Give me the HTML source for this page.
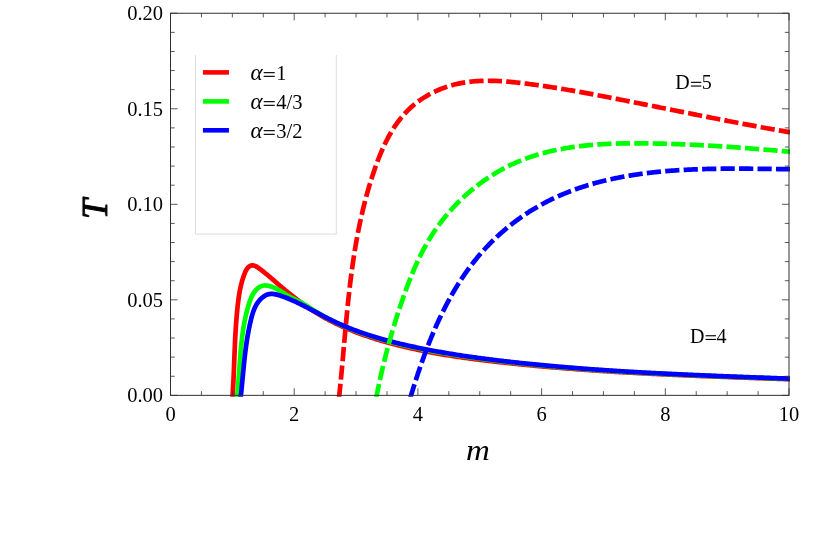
<!DOCTYPE html>
<html><head><meta charset="utf-8"><title>T vs m</title>
<style>
html,body{margin:0;padding:0;background:#fff;}
body{width:830px;height:545px;overflow:hidden;position:relative;font-family:"Liberation Serif",serif;}
</style></head><body>
<svg width="830" height="545" viewBox="0 0 830 545" style="position:absolute;left:0;top:0">
<defs><clipPath id="cp"><rect x="170.5" y="13.25" width="619.50" height="383.40"/></clipPath></defs>
<path d="M195.5,55 V234.1 H336.3 V55" fill="none" stroke="#dcdcdc" stroke-width="1"/>
<g clip-path="url(#cp)" fill="none" stroke-linejoin="round">
<path d="M339.00,398.02 L339.15,396.61 L339.30,395.20 L339.45,393.78 L339.60,392.37 L339.74,390.96 L339.89,389.55 L340.03,388.14 L340.17,386.72 L340.31,385.31 L340.45,383.90 L340.59,382.49 L340.73,381.08 L340.86,379.67 L341.00,378.25 L341.13,376.84 L341.27,375.43 L341.40,374.02 L341.53,372.61 L341.66,371.20 L341.79,369.79 L341.92,368.38 L342.05,366.97 L342.18,365.56 L342.31,364.15 L342.44,362.74 L342.57,361.33 L342.69,359.92 L342.82,358.51 L342.95,357.10 L343.07,355.69 L343.20,354.28 L343.32,352.87 L343.45,351.46 L343.57,350.05 L343.70,348.65 L343.82,347.24 L343.95,345.83 L344.07,344.42 L344.20,343.01 L344.32,341.61 L344.45,340.20 L344.58,338.79 L344.70,337.39 L344.83,335.98 L344.96,334.57 L345.08,333.17 L345.21,331.76 L345.34,330.35 L345.47,328.95 L345.60,327.54 L345.73,326.14 L345.86,324.73 L345.99,323.33 L346.12,321.92 L346.25,320.52 L346.39,319.12 L346.52,317.71 L346.65,316.31 L346.79,314.91 L346.93,313.50 L347.07,312.10 L347.20,310.70 L347.35,309.30 L347.49,307.89 L347.63,306.49 L347.77,305.09 L347.92,303.69 L348.06,302.29 L348.21,300.89 L348.36,299.49 L348.51,298.09 L348.66,296.69 L348.82,295.29 L348.97,293.89 L349.13,292.49 L349.29,291.09 L349.45,289.69 L349.61,288.30 L349.77,286.90 L349.94,285.50 L350.10,284.10 L350.27,282.71 L350.44,281.31 L350.62,279.91 L350.79,278.52 L350.97,277.12 L351.15,275.73 L351.33,274.33 L351.51,272.94 L351.70,271.55 L351.89,270.15 L352.08,268.76 L352.27,267.37 L352.47,265.97 L352.66,264.58 L352.86,263.19 L353.07,261.80 L353.27,260.41 L353.48,259.02 L353.69,257.63 L353.90,256.24 L354.12,254.85 L354.34,253.46 L354.56,252.07 L354.78,250.68 L355.01,249.29 L355.24,247.90 L355.47,246.52 L355.71,245.13 L355.95,243.74 L356.19,242.36 L356.43,240.97 L356.68,239.59 L356.93,238.20 L357.19,236.82 L357.45,235.43 L357.71,234.05 L357.97,232.67 L358.24,231.28 L358.51,229.90 L358.79,228.52 L359.07,227.14 L359.35,225.76 L359.64,224.38 L359.93,223.00 L360.22,221.62 L360.52,220.24 L360.82,218.86 L361.13,217.48 L361.44,216.10 L361.75,214.73 L362.07,213.35 L362.39,211.97 L362.71,210.60 L363.04,209.22 L363.37,207.85 L363.71,206.47 L364.05,205.10 L364.40,203.72 L364.75,202.35 L365.10,200.98 L365.46,199.61 L365.83,198.24 L366.19,196.86 L366.57,195.49 L366.94,194.12 L367.33,192.76 L367.71,191.39 L368.10,190.02 L368.50,188.65 L368.90,187.28 L369.31,185.92 L369.72,184.55 L370.13,183.18 L370.55,181.82 L370.98,180.45 L371.41,179.09 L371.84,177.73 L372.28,176.36 L372.73,175.00 L373.18,173.64 L373.63,172.28 L374.10,170.92 L374.56,169.56 L375.03,168.20 L375.51,166.84 L376.00,165.49 L376.49,164.14 L376.99,162.79 L377.49,161.44 L378.00,160.10 L378.52,158.76 L379.05,157.42 L379.58,156.08 L380.12,154.75 L380.67,153.43 L381.23,152.11 L381.79,150.79 L382.37,149.48 L382.95,148.18 L383.54,146.88 L384.14,145.58 L384.75,144.29 L385.37,143.01 L386.00,141.74 L386.64,140.47 L387.29,139.21 L387.95,137.96 L388.62,136.72 L389.30,135.48 L389.99,134.25 L390.69,133.03 L391.40,131.82 L392.13,130.62 L392.86,129.43 L393.61,128.25 L394.37,127.08 L395.14,125.91 L395.93,124.76 L396.72,123.62 L397.53,122.49 L398.35,121.38 L399.19,120.27 L400.04,119.18 L400.90,118.10 L401.78,117.03 L402.67,115.97 L403.57,114.93 L404.49,113.90 L405.42,112.88 L406.37,111.88 L407.33,110.89 L408.31,109.92 L409.30,108.96 L410.31,108.01 L411.33,107.08 L412.37,106.17 L413.42,105.27 L414.49,104.38 L415.57,103.51 L416.66,102.66 L417.77,101.82 L418.89,101.00 L420.02,100.19 L421.17,99.40 L422.33,98.63 L423.49,97.87 L424.67,97.13 L425.87,96.40 L427.07,95.69 L428.28,94.99 L429.50,94.31 L430.74,93.65 L431.98,93.00 L433.23,92.37 L434.49,91.76 L435.76,91.16 L437.04,90.58 L438.32,90.02 L439.62,89.47 L440.92,88.94 L442.23,88.43 L443.54,87.94 L444.86,87.46 L446.19,87.00 L447.52,86.55 L448.86,86.13 L450.21,85.72 L451.56,85.33 L452.91,84.96 L454.27,84.60 L455.63,84.26 L457.00,83.94 L458.37,83.64 L459.74,83.35 L461.12,83.08 L462.50,82.83 L463.88,82.59 L465.27,82.37 L466.66,82.17 L468.06,81.98 L469.45,81.80 L470.85,81.64 L472.25,81.50 L473.66,81.37 L475.07,81.25 L476.47,81.15 L477.89,81.05 L479.30,80.98 L480.72,80.91 L482.13,80.86 L483.55,80.82 L484.97,80.79 L486.40,80.77 L487.82,80.76 L489.25,80.76 L490.68,80.78 L492.10,80.80 L493.53,80.84 L494.96,80.88 L496.39,80.93 L497.83,80.99 L499.26,81.06 L500.69,81.14 L502.12,81.23 L503.56,81.32 L504.99,81.43 L506.43,81.54 L507.86,81.65 L509.29,81.78 L510.73,81.91 L512.16,82.04 L513.59,82.18 L515.03,82.33 L516.46,82.48 L517.89,82.64 L519.32,82.80 L520.75,82.96 L522.17,83.13 L523.60,83.30 L525.02,83.48 L526.45,83.66 L527.87,83.84 L529.29,84.02 L530.71,84.21 L532.13,84.40 L533.54,84.59 L534.96,84.78 L536.37,84.98 L537.78,85.17 L539.19,85.37 L540.60,85.57 L542.00,85.77 L543.41,85.98 L544.81,86.19 L546.21,86.39 L547.61,86.61 L549.01,86.82 L550.41,87.03 L551.81,87.25 L553.21,87.47 L554.60,87.68 L555.99,87.91 L557.39,88.13 L558.78,88.35 L560.17,88.58 L561.56,88.81 L562.95,89.04 L564.34,89.27 L565.72,89.50 L567.11,89.73 L568.50,89.97 L569.88,90.21 L571.27,90.44 L572.65,90.68 L574.03,90.93 L575.41,91.17 L576.80,91.41 L578.18,91.66 L579.56,91.90 L580.94,92.15 L582.32,92.40 L583.70,92.65 L585.08,92.90 L586.45,93.15 L587.83,93.40 L589.21,93.66 L590.59,93.91 L591.97,94.17 L593.34,94.42 L594.72,94.68 L596.10,94.94 L597.47,95.20 L598.85,95.46 L600.23,95.72 L601.61,95.98 L602.98,96.25 L604.36,96.51 L605.74,96.77 L607.11,97.04 L608.49,97.30 L609.87,97.57 L611.25,97.84 L612.63,98.10 L614.01,98.37 L615.39,98.64 L616.77,98.91 L618.15,99.18 L619.53,99.45 L620.91,99.72 L622.29,99.99 L623.67,100.26 L625.05,100.53 L626.43,100.81 L627.81,101.08 L629.20,101.35 L630.58,101.62 L631.96,101.90 L633.35,102.17 L634.73,102.45 L636.12,102.72 L637.50,102.99 L638.88,103.27 L640.27,103.55 L641.65,103.82 L643.04,104.10 L644.43,104.37 L645.81,104.65 L647.20,104.93 L648.58,105.20 L649.97,105.48 L651.36,105.76 L652.74,106.04 L654.13,106.31 L655.52,106.59 L656.91,106.87 L658.29,107.15 L659.68,107.43 L661.07,107.70 L662.46,107.98 L663.85,108.26 L665.24,108.54 L666.63,108.82 L668.02,109.10 L669.40,109.38 L670.79,109.65 L672.18,109.93 L673.57,110.21 L674.96,110.49 L676.35,110.77 L677.74,111.05 L679.13,111.33 L680.52,111.60 L681.92,111.88 L683.31,112.16 L684.70,112.44 L686.09,112.72 L687.48,113.00 L688.87,113.27 L690.26,113.55 L691.65,113.83 L693.04,114.11 L694.43,114.38 L695.83,114.66 L697.22,114.94 L698.61,115.21 L700.00,115.49 L701.39,115.76 L702.78,116.04 L704.17,116.31 L705.57,116.59 L706.96,116.86 L708.35,117.14 L709.74,117.41 L711.13,117.69 L712.52,117.96 L713.92,118.23 L715.31,118.50 L716.70,118.78 L718.09,119.05 L719.48,119.32 L720.87,119.59 L722.27,119.86 L723.66,120.13 L725.05,120.40 L726.44,120.67 L727.83,120.94 L729.22,121.21 L730.61,121.47 L732.00,121.74 L733.40,122.01 L734.79,122.27 L736.18,122.54 L737.57,122.80 L738.96,123.07 L740.35,123.33 L741.74,123.59 L743.13,123.85 L744.52,124.11 L745.91,124.38 L747.30,124.64 L748.69,124.90 L750.08,125.15 L751.47,125.41 L752.86,125.67 L754.25,125.93 L755.64,126.18 L757.03,126.44 L758.41,126.69 L759.80,126.94 L761.19,127.20 L762.58,127.45 L763.97,127.70 L765.36,127.95 L766.74,128.20 L768.13,128.45 L769.52,128.69 L770.90,128.94 L772.29,129.19 L773.68,129.43 L775.06,129.68 L776.45,129.92 L777.84,130.16 L779.22,130.40 L780.61,130.64 L781.99,130.88 L783.38,131.12 L784.76,131.36 L786.14,131.59 L787.53,131.83 L788.91,132.06 L790.30,132.29 L791.68,132.52 L793.06,132.76 L794.44,132.98 L795.83,133.21 L797.21,133.44 L798.59,133.67 L799.97,133.89" stroke="#ff0000" stroke-width="4.7" stroke-dasharray="14.24 4.23" stroke-dashoffset="0"/>
<path d="M232.34,398.98 L232.45,397.56 L232.54,396.15 L232.64,394.74 L232.73,393.32 L232.82,391.90 L232.90,390.49 L232.98,389.07 L233.06,387.65 L233.14,386.23 L233.22,384.81 L233.29,383.39 L233.36,381.97 L233.43,380.55 L233.50,379.12 L233.56,377.70 L233.62,376.28 L233.69,374.85 L233.75,373.43 L233.81,372.01 L233.87,370.58 L233.92,369.16 L233.98,367.73 L234.04,366.30 L234.09,364.88 L234.15,363.45 L234.20,362.03 L234.26,360.60 L234.31,359.17 L234.37,357.75 L234.43,356.32 L234.48,354.89 L234.54,353.47 L234.60,352.04 L234.66,350.61 L234.71,349.19 L234.77,347.76 L234.84,346.33 L234.90,344.91 L234.96,343.48 L235.03,342.06 L235.10,340.63 L235.17,339.21 L235.24,337.78 L235.31,336.36 L235.39,334.93 L235.47,333.51 L235.55,332.09 L235.63,330.67 L235.72,329.24 L235.81,327.82 L235.90,326.40 L236.00,324.98 L236.10,323.56 L236.20,322.14 L236.31,320.72 L236.42,319.31 L236.53,317.89 L236.65,316.47 L236.77,315.06 L236.90,313.64 L237.03,312.23 L237.17,310.82 L237.31,309.41 L237.45,308.00 L237.60,306.59 L237.76,305.18 L237.92,303.77 L238.09,302.36 L238.26,300.96 L238.44,299.55 L238.63,298.15 L238.84,296.75 L239.05,295.35 L239.27,293.95 L239.51,292.55 L239.76,291.15 L240.03,289.75 L240.31,288.36 L240.61,286.97 L240.93,285.58 L241.27,284.19 L241.63,282.80 L242.00,281.41 L242.40,280.03 L242.83,278.64 L243.28,277.26 L243.75,275.88 L244.25,274.50 L244.78,273.13 L245.35,271.78 L245.98,270.48 L246.70,269.26 L247.51,268.14 L248.43,267.14 L249.48,266.30 L250.67,265.67 L251.96,265.36 L253.34,265.43 L254.73,265.81 L256.07,266.40 L257.33,267.12 L258.54,267.93 L259.70,268.80 L260.86,269.68 L262.00,270.56 L263.12,271.45 L264.24,272.35 L265.35,273.25 L266.45,274.15 L267.54,275.06 L268.63,275.97 L269.71,276.89 L270.79,277.81 L271.86,278.73 L272.93,279.65 L274.00,280.58 L275.07,281.50 L276.14,282.43 L277.21,283.35 L278.29,284.27 L279.36,285.19 L280.45,286.12 L281.53,287.03 L282.62,287.95 L283.71,288.87 L284.80,289.78 L285.90,290.69 L287.00,291.60 L288.11,292.50 L289.22,293.40 L290.33,294.30 L291.45,295.19 L292.57,296.08 L293.69,296.96 L294.82,297.84 L295.95,298.72 L297.08,299.59 L298.22,300.45 L299.37,301.31 L300.52,302.16 L301.67,303.01 L302.82,303.85 L303.99,304.68 L305.15,305.51 L306.32,306.33 L307.49,307.14 L308.67,307.95 L309.86,308.74 L311.05,309.53 L312.24,310.31 L313.44,311.08 L314.64,311.85 L315.85,312.60 L317.06,313.35 L318.28,314.08 L319.50,314.81 L320.73,315.53 L321.96,316.24 L323.19,316.94 L324.43,317.64 L325.68,318.32 L326.92,319.00 L328.18,319.67 L329.43,320.33 L330.70,320.99 L331.96,321.63 L333.23,322.27 L334.50,322.90 L335.78,323.52 L337.06,324.13 L338.34,324.74 L339.63,325.34 L340.92,325.93 L342.22,326.52 L343.52,327.10 L344.82,327.67 L346.12,328.23 L347.43,328.79 L348.74,329.33 L350.06,329.88 L351.38,330.41 L352.70,330.94 L354.02,331.46 L355.35,331.98 L356.68,332.49 L358.01,332.99 L359.34,333.49 L360.68,333.98 L362.02,334.46 L363.36,334.94 L364.71,335.41 L366.06,335.88 L367.40,336.34 L368.76,336.79 L370.11,337.24 L371.47,337.68 L372.83,338.12 L374.19,338.55 L375.55,338.98 L376.91,339.40 L378.28,339.82 L379.64,340.23 L381.01,340.63 L382.38,341.03 L383.76,341.43 L385.13,341.82 L386.51,342.20 L387.88,342.58 L389.26,342.96 L390.64,343.33 L392.02,343.70 L393.40,344.06 L394.78,344.42 L396.17,344.77 L397.55,345.12 L398.93,345.47 L400.32,345.81 L401.71,346.15 L403.09,346.48 L404.48,346.81 L405.87,347.13 L407.26,347.46 L408.65,347.77 L410.04,348.09 L411.43,348.40 L412.82,348.70 L414.22,349.01 L415.61,349.31 L417.00,349.60 L418.40,349.89 L419.79,350.18 L421.19,350.47 L422.58,350.75 L423.98,351.03 L425.38,351.30 L426.78,351.57 L428.17,351.84 L429.57,352.11 L430.97,352.37 L432.37,352.63 L433.77,352.89 L435.17,353.14 L436.58,353.39 L437.98,353.64 L439.38,353.88 L440.78,354.12 L442.19,354.36 L443.59,354.59 L445.00,354.83 L446.40,355.06 L447.81,355.28 L449.21,355.51 L450.62,355.73 L452.02,355.95 L453.43,356.17 L454.84,356.38 L456.25,356.60 L457.65,356.81 L459.06,357.01 L460.47,357.22 L461.88,357.42 L463.29,357.62 L464.70,357.82 L466.11,358.02 L467.52,358.21 L468.93,358.40 L470.34,358.59 L471.75,358.78 L473.17,358.97 L474.58,359.15 L475.99,359.34 L477.40,359.52 L478.82,359.70 L480.23,359.87 L481.64,360.05 L483.06,360.22 L484.47,360.40 L485.88,360.57 L487.30,360.74 L488.71,360.90 L490.13,361.07 L491.54,361.24 L492.96,361.40 L494.37,361.56 L495.79,361.72 L497.20,361.88 L498.62,362.04 L500.03,362.20 L501.45,362.36 L502.86,362.51 L504.28,362.67 L505.69,362.82 L507.11,362.97 L508.53,363.12 L509.94,363.27 L511.36,363.42 L512.78,363.57 L514.19,363.71 L515.61,363.86 L517.03,364.00 L518.44,364.15 L519.86,364.29 L521.28,364.43 L522.69,364.57 L524.11,364.71 L525.53,364.85 L526.94,364.99 L528.36,365.12 L529.78,365.26 L531.20,365.39 L532.62,365.53 L534.03,365.66 L535.45,365.79 L536.87,365.92 L538.29,366.05 L539.71,366.18 L541.12,366.31 L542.54,366.44 L543.96,366.56 L545.38,366.69 L546.80,366.81 L548.22,366.93 L549.64,367.05 L551.05,367.18 L552.47,367.30 L553.89,367.42 L555.31,367.53 L556.73,367.65 L558.15,367.77 L559.57,367.88 L560.99,368.00 L562.41,368.11 L563.83,368.23 L565.25,368.34 L566.67,368.45 L568.09,368.56 L569.51,368.67 L570.93,368.78 L572.35,368.89 L573.77,369.00 L575.19,369.10 L576.61,369.21 L578.03,369.31 L579.45,369.42 L580.87,369.52 L582.29,369.62 L583.71,369.73 L585.13,369.83 L586.55,369.93 L587.97,370.03 L589.40,370.13 L590.82,370.22 L592.24,370.32 L593.66,370.42 L595.08,370.51 L596.50,370.61 L597.92,370.70 L599.34,370.80 L600.77,370.89 L602.19,370.98 L603.61,371.07 L605.03,371.16 L606.45,371.25 L607.87,371.34 L609.30,371.43 L610.72,371.52 L612.14,371.61 L613.56,371.69 L614.98,371.78 L616.40,371.87 L617.83,371.95 L619.25,372.04 L620.67,372.12 L622.09,372.20 L623.52,372.28 L624.94,372.37 L626.36,372.45 L627.78,372.53 L629.20,372.61 L630.63,372.69 L632.05,372.77 L633.47,372.84 L634.89,372.92 L636.32,373.00 L637.74,373.08 L639.16,373.15 L640.59,373.23 L642.01,373.30 L643.43,373.38 L644.85,373.45 L646.28,373.52 L647.70,373.60 L649.12,373.67 L650.55,373.74 L651.97,373.81 L653.39,373.88 L654.82,373.95 L656.24,374.02 L657.66,374.09 L659.08,374.16 L660.51,374.23 L661.93,374.30 L663.35,374.36 L664.78,374.43 L666.20,374.50 L667.62,374.56 L669.05,374.63 L670.47,374.69 L671.89,374.76 L673.32,374.82 L674.74,374.89 L676.16,374.95 L677.59,375.01 L679.01,375.08 L680.43,375.14 L681.86,375.20 L683.28,375.26 L684.71,375.32 L686.13,375.39 L687.55,375.45 L688.98,375.51 L690.40,375.57 L691.82,375.63 L693.25,375.68 L694.67,375.74 L696.09,375.80 L697.52,375.86 L698.94,375.92 L700.36,375.98 L701.79,376.03 L703.21,376.09 L704.64,376.15 L706.06,376.20 L707.48,376.26 L708.91,376.31 L710.33,376.37 L711.75,376.43 L713.18,376.48 L714.60,376.54 L716.02,376.59 L717.45,376.64 L718.87,376.70 L720.30,376.75 L721.72,376.81 L723.14,376.86 L724.57,376.91 L725.99,376.97 L727.41,377.02 L728.84,377.07 L730.26,377.12 L731.68,377.18 L733.11,377.23 L734.53,377.28 L735.95,377.33 L737.38,377.38 L738.80,377.43 L740.23,377.49 L741.65,377.54 L743.07,377.59 L744.50,377.64 L745.92,377.69 L747.34,377.74 L748.77,377.79 L750.19,377.84 L751.61,377.89 L753.04,377.94 L754.46,377.99 L755.88,378.04 L757.31,378.09 L758.73,378.14 L760.15,378.19 L761.57,378.24 L763.00,378.29 L764.42,378.34 L765.84,378.39 L767.27,378.44 L768.69,378.49 L770.11,378.54 L771.54,378.59 L772.96,378.64 L774.38,378.69 L775.80,378.74 L777.23,378.78 L778.65,378.83 L780.07,378.88 L781.50,378.93 L782.92,378.98 L784.34,379.03 L785.76,379.08 L787.19,379.13 L788.61,379.18 L790.03,379.23 L791.45,379.28 L792.88,379.33 L794.30,379.38 L795.72,379.43 L797.14,379.48 L798.57,379.53 L799.99,379.58" stroke="#ff0000" stroke-width="4.7"/>
<path d="M236.70,399.01 L236.86,397.67 L237.02,396.32 L237.17,394.97 L237.31,393.62 L237.45,392.28 L237.59,390.93 L237.72,389.58 L237.85,388.24 L237.97,386.89 L238.09,385.55 L238.20,384.20 L238.32,382.85 L238.43,381.51 L238.53,380.16 L238.64,378.82 L238.74,377.47 L238.84,376.13 L238.94,374.78 L239.03,373.44 L239.13,372.09 L239.22,370.75 L239.32,369.40 L239.41,368.06 L239.51,366.72 L239.60,365.37 L239.70,364.03 L239.79,362.69 L239.89,361.35 L239.99,360.01 L240.09,358.67 L240.19,357.33 L240.30,355.99 L240.40,354.65 L240.51,353.31 L240.62,351.97 L240.74,350.63 L240.86,349.29 L240.98,347.96 L241.11,346.62 L241.24,345.28 L241.37,343.95 L241.51,342.61 L241.66,341.28 L241.81,339.95 L241.96,338.61 L242.12,337.28 L242.29,335.95 L242.47,334.62 L242.65,333.29 L242.83,331.96 L243.03,330.63 L243.23,329.30 L243.44,327.97 L243.66,326.65 L243.89,325.32 L244.12,323.99 L244.36,322.67 L244.62,321.35 L244.88,320.02 L245.15,318.70 L245.43,317.38 L245.72,316.06 L246.02,314.74 L246.33,313.42 L246.66,312.10 L246.99,310.79 L247.34,309.47 L247.69,308.16 L248.06,306.84 L248.45,305.53 L248.84,304.22 L249.25,302.91 L249.68,301.61 L250.13,300.32 L250.62,299.04 L251.14,297.79 L251.69,296.56 L252.29,295.35 L252.94,294.18 L253.64,293.04 L254.40,291.94 L255.22,290.88 L256.10,289.87 L257.06,288.91 L258.08,288.01 L259.18,287.21 L260.33,286.55 L261.53,286.04 L262.77,285.71 L264.04,285.52 L265.34,285.47 L266.65,285.55 L267.98,285.74 L269.31,286.03 L270.63,286.40 L271.94,286.84 L273.23,287.34 L274.49,287.88 L275.73,288.46 L276.94,289.07 L278.14,289.71 L279.32,290.38 L280.48,291.07 L281.63,291.77 L282.78,292.48 L283.92,293.20 L285.05,293.91 L286.19,294.63 L287.34,295.34 L288.49,296.03 L289.65,296.70 L290.82,297.36 L292.01,297.99 L293.20,298.61 L294.41,299.21 L295.62,299.81 L296.83,300.40 L298.04,301.00 L299.25,301.60 L300.45,302.21 L301.64,302.84 L302.82,303.50 L303.99,304.17 L305.15,304.86 L306.30,305.56 L307.45,306.28 L308.59,307.01 L309.73,307.74 L310.86,308.47 L312.00,309.21 L313.14,309.93 L314.28,310.66 L315.43,311.37 L316.58,312.08 L317.73,312.78 L318.89,313.47 L320.05,314.15 L321.22,314.82 L322.39,315.49 L323.57,316.15 L324.75,316.80 L325.93,317.44 L327.12,318.08 L328.31,318.71 L329.50,319.33 L330.70,319.94 L331.90,320.55 L333.10,321.15 L334.31,321.74 L335.52,322.33 L336.74,322.91 L337.96,323.48 L339.18,324.04 L340.40,324.60 L341.63,325.15 L342.86,325.69 L344.10,326.23 L345.33,326.76 L346.57,327.29 L347.81,327.81 L349.06,328.32 L350.31,328.82 L351.56,329.32 L352.81,329.82 L354.07,330.30 L355.32,330.78 L356.58,331.26 L357.85,331.73 L359.11,332.19 L360.38,332.65 L361.65,333.10 L362.92,333.55 L364.19,333.99 L365.47,334.42 L366.75,334.85 L368.03,335.28 L369.31,335.70 L370.59,336.11 L371.87,336.52 L373.16,336.93 L374.45,337.33 L375.74,337.72 L377.03,338.11 L378.32,338.49 L379.62,338.88 L380.91,339.25 L382.21,339.62 L383.51,339.99 L384.81,340.35 L386.11,340.71 L387.41,341.07 L388.71,341.42 L390.02,341.76 L391.32,342.11 L392.63,342.45 L393.94,342.78 L395.24,343.11 L396.55,343.44 L397.86,343.77 L399.17,344.09 L400.48,344.41 L401.79,344.72 L403.11,345.03 L404.42,345.34 L405.73,345.65 L407.05,345.95 L408.36,346.25 L409.68,346.55 L410.99,346.84 L412.31,347.13 L413.62,347.42 L414.94,347.70 L416.26,347.98 L417.58,348.26 L418.90,348.54 L420.22,348.81 L421.54,349.08 L422.86,349.35 L424.18,349.61 L425.50,349.88 L426.82,350.13 L428.14,350.39 L429.47,350.65 L430.79,350.90 L432.12,351.15 L433.44,351.39 L434.77,351.64 L436.09,351.88 L437.42,352.12 L438.74,352.35 L440.07,352.59 L441.40,352.82 L442.72,353.05 L444.05,353.28 L445.38,353.50 L446.71,353.72 L448.04,353.94 L449.37,354.16 L450.70,354.38 L452.03,354.59 L453.36,354.80 L454.69,355.01 L456.02,355.22 L457.35,355.43 L458.68,355.63 L460.02,355.83 L461.35,356.03 L462.68,356.23 L464.02,356.43 L465.35,356.62 L466.68,356.82 L468.02,357.01 L469.35,357.20 L470.69,357.38 L472.02,357.57 L473.36,357.75 L474.69,357.93 L476.03,358.12 L477.36,358.29 L478.70,358.47 L480.04,358.65 L481.37,358.82 L482.71,359.00 L484.05,359.17 L485.38,359.34 L486.72,359.51 L488.06,359.68 L489.40,359.84 L490.73,360.01 L492.07,360.17 L493.41,360.33 L494.75,360.49 L496.09,360.65 L497.42,360.81 L498.76,360.97 L500.10,361.13 L501.44,361.28 L502.78,361.44 L504.12,361.59 L505.46,361.75 L506.80,361.90 L508.13,362.05 L509.47,362.20 L510.81,362.35 L512.15,362.49 L513.49,362.64 L514.83,362.79 L516.17,362.93 L517.51,363.07 L518.85,363.22 L520.19,363.36 L521.53,363.50 L522.87,363.64 L524.21,363.78 L525.55,363.91 L526.89,364.05 L528.23,364.19 L529.58,364.32 L530.92,364.46 L532.26,364.59 L533.60,364.72 L534.94,364.85 L536.28,364.98 L537.62,365.11 L538.96,365.24 L540.30,365.37 L541.65,365.49 L542.99,365.62 L544.33,365.74 L545.67,365.87 L547.01,365.99 L548.35,366.11 L549.70,366.23 L551.04,366.35 L552.38,366.47 L553.72,366.59 L555.06,366.71 L556.41,366.83 L557.75,366.94 L559.09,367.06 L560.43,367.17 L561.78,367.29 L563.12,367.40 L564.46,367.51 L565.81,367.62 L567.15,367.73 L568.49,367.84 L569.83,367.95 L571.18,368.06 L572.52,368.17 L573.86,368.27 L575.21,368.38 L576.55,368.48 L577.89,368.59 L579.24,368.69 L580.58,368.79 L581.93,368.90 L583.27,369.00 L584.61,369.10 L585.96,369.20 L587.30,369.30 L588.64,369.39 L589.99,369.49 L591.33,369.59 L592.68,369.69 L594.02,369.78 L595.37,369.88 L596.71,369.97 L598.05,370.06 L599.40,370.16 L600.74,370.25 L602.09,370.34 L603.43,370.43 L604.78,370.52 L606.12,370.61 L607.47,370.70 L608.81,370.79 L610.16,370.87 L611.50,370.96 L612.85,371.05 L614.19,371.13 L615.54,371.22 L616.88,371.30 L618.23,371.38 L619.57,371.47 L620.92,371.55 L622.26,371.63 L623.61,371.71 L624.95,371.79 L626.30,371.87 L627.64,371.95 L628.99,372.03 L630.33,372.11 L631.68,372.19 L633.03,372.27 L634.37,372.34 L635.72,372.42 L637.06,372.49 L638.41,372.57 L639.75,372.64 L641.10,372.72 L642.45,372.79 L643.79,372.86 L645.14,372.94 L646.48,373.01 L647.83,373.08 L649.18,373.15 L650.52,373.22 L651.87,373.29 L653.21,373.36 L654.56,373.43 L655.91,373.50 L657.25,373.57 L658.60,373.64 L659.95,373.70 L661.29,373.77 L662.64,373.84 L663.98,373.90 L665.33,373.97 L666.68,374.03 L668.02,374.10 L669.37,374.16 L670.72,374.23 L672.06,374.29 L673.41,374.35 L674.76,374.42 L676.10,374.48 L677.45,374.54 L678.80,374.60 L680.14,374.66 L681.49,374.72 L682.84,374.78 L684.18,374.84 L685.53,374.90 L686.88,374.96 L688.22,375.02 L689.57,375.08 L690.92,375.14 L692.26,375.20 L693.61,375.26 L694.96,375.31 L696.30,375.37 L697.65,375.43 L699.00,375.48 L700.34,375.54 L701.69,375.60 L703.04,375.65 L704.38,375.71 L705.73,375.76 L707.08,375.82 L708.43,375.87 L709.77,375.93 L711.12,375.98 L712.47,376.03 L713.81,376.09 L715.16,376.14 L716.51,376.19 L717.85,376.25 L719.20,376.30 L720.55,376.35 L721.89,376.40 L723.24,376.46 L724.59,376.51 L725.93,376.56 L727.28,376.61 L728.63,376.66 L729.98,376.71 L731.32,376.76 L732.67,376.81 L734.02,376.87 L735.36,376.92 L736.71,376.97 L738.06,377.02 L739.40,377.07 L740.75,377.12 L742.10,377.17 L743.44,377.21 L744.79,377.26 L746.14,377.31 L747.48,377.36 L748.83,377.41 L750.18,377.46 L751.52,377.51 L752.87,377.56 L754.22,377.61 L755.56,377.65 L756.91,377.70 L758.26,377.75 L759.60,377.80 L760.95,377.85 L762.30,377.90 L763.64,377.94 L764.99,377.99 L766.34,378.04 L767.68,378.09 L769.03,378.14 L770.38,378.18 L771.72,378.23 L773.07,378.28 L774.41,378.33 L775.76,378.38 L777.11,378.42 L778.45,378.47 L779.80,378.52 L781.15,378.57 L782.49,378.62 L783.84,378.66 L785.18,378.71 L786.53,378.76 L787.88,378.81 L789.22,378.86 L790.57,378.90 L791.91,378.95 L793.26,379.00 L794.61,379.05 L795.95,379.10 L797.30,379.15 L798.64,379.19 L799.99,379.24" stroke="#00ff00" stroke-width="4.7"/>
<path d="M240.49,399.02 L240.64,397.70 L240.79,396.38 L240.93,395.07 L241.07,393.75 L241.21,392.44 L241.35,391.13 L241.48,389.81 L241.61,388.50 L241.74,387.19 L241.87,385.88 L242.00,384.57 L242.12,383.26 L242.25,381.95 L242.37,380.64 L242.50,379.33 L242.62,378.02 L242.74,376.71 L242.87,375.40 L242.99,374.10 L243.12,372.79 L243.24,371.49 L243.37,370.18 L243.49,368.88 L243.62,367.57 L243.75,366.27 L243.88,364.96 L244.01,363.66 L244.15,362.36 L244.28,361.05 L244.42,359.75 L244.56,358.45 L244.71,357.15 L244.86,355.85 L245.01,354.55 L245.16,353.25 L245.32,351.95 L245.48,350.65 L245.65,349.35 L245.82,348.05 L245.99,346.75 L246.17,345.45 L246.35,344.15 L246.54,342.86 L246.73,341.56 L246.93,340.26 L247.14,338.96 L247.35,337.67 L247.56,336.37 L247.79,335.07 L248.02,333.78 L248.25,332.48 L248.49,331.19 L248.74,329.89 L249.00,328.59 L249.26,327.30 L249.53,326.00 L249.81,324.71 L250.10,323.41 L250.39,322.12 L250.70,320.83 L251.01,319.53 L251.33,318.24 L251.66,316.95 L252.02,315.66 L252.38,314.39 L252.78,313.12 L253.19,311.86 L253.64,310.62 L254.11,309.39 L254.62,308.18 L255.17,307.00 L255.76,305.83 L256.39,304.69 L257.07,303.58 L257.80,302.49 L258.58,301.44 L259.42,300.42 L260.32,299.43 L261.27,298.48 L262.30,297.58 L263.38,296.73 L264.50,295.96 L265.67,295.29 L266.86,294.74 L268.07,294.33 L269.30,294.06 L270.53,293.91 L271.78,293.87 L273.03,293.94 L274.29,294.09 L275.55,294.32 L276.82,294.62 L278.08,294.96 L279.35,295.35 L280.61,295.76 L281.86,296.20 L283.11,296.64 L284.35,297.10 L285.59,297.56 L286.82,298.04 L288.04,298.54 L289.26,299.04 L290.48,299.55 L291.69,300.07 L292.90,300.60 L294.10,301.14 L295.30,301.69 L296.49,302.24 L297.68,302.80 L298.87,303.37 L300.06,303.95 L301.24,304.53 L302.42,305.12 L303.59,305.71 L304.77,306.31 L305.94,306.91 L307.11,307.51 L308.28,308.12 L309.45,308.73 L310.61,309.34 L311.78,309.96 L312.94,310.58 L314.10,311.19 L315.27,311.81 L316.43,312.43 L317.59,313.05 L318.75,313.67 L319.92,314.28 L321.08,314.90 L322.24,315.51 L323.41,316.12 L324.58,316.73 L325.74,317.33 L326.91,317.93 L328.09,318.52 L329.26,319.11 L330.44,319.70 L331.61,320.27 L332.80,320.85 L333.98,321.41 L335.17,321.97 L336.36,322.53 L337.55,323.07 L338.74,323.61 L339.94,324.15 L341.14,324.68 L342.34,325.20 L343.55,325.71 L344.76,326.22 L345.97,326.73 L347.18,327.23 L348.39,327.72 L349.61,328.21 L350.83,328.69 L352.05,329.16 L353.28,329.64 L354.50,330.10 L355.73,330.56 L356.96,331.01 L358.20,331.46 L359.43,331.91 L360.67,332.35 L361.91,332.78 L363.15,333.21 L364.39,333.63 L365.63,334.05 L366.88,334.46 L368.13,334.87 L369.38,335.28 L370.63,335.68 L371.88,336.07 L373.14,336.46 L374.39,336.85 L375.65,337.23 L376.91,337.60 L378.17,337.98 L379.43,338.35 L380.70,338.71 L381.96,339.07 L383.23,339.43 L384.50,339.78 L385.77,340.13 L387.04,340.47 L388.31,340.81 L389.58,341.15 L390.86,341.48 L392.13,341.81 L393.41,342.13 L394.69,342.46 L395.97,342.77 L397.24,343.09 L398.53,343.40 L399.81,343.71 L401.09,344.01 L402.37,344.32 L403.66,344.61 L404.94,344.91 L406.22,345.20 L407.51,345.49 L408.80,345.78 L410.08,346.06 L411.37,346.34 L412.66,346.62 L413.95,346.90 L415.24,347.17 L416.53,347.44 L417.82,347.71 L419.11,347.98 L420.40,348.24 L421.69,348.50 L422.98,348.76 L424.27,349.02 L425.57,349.27 L426.86,349.52 L428.15,349.77 L429.44,350.02 L430.74,350.27 L432.03,350.51 L433.32,350.75 L434.62,350.99 L435.91,351.23 L437.21,351.46 L438.50,351.70 L439.79,351.93 L441.09,352.16 L442.39,352.38 L443.68,352.61 L444.98,352.83 L446.27,353.05 L447.57,353.27 L448.87,353.49 L450.16,353.70 L451.46,353.92 L452.76,354.13 L454.06,354.34 L455.35,354.55 L456.65,354.75 L457.95,354.96 L459.25,355.16 L460.55,355.36 L461.85,355.56 L463.15,355.75 L464.45,355.95 L465.74,356.14 L467.04,356.34 L468.34,356.53 L469.65,356.71 L470.95,356.90 L472.25,357.09 L473.55,357.27 L474.85,357.45 L476.15,357.63 L477.45,357.81 L478.75,357.99 L480.05,358.17 L481.36,358.34 L482.66,358.51 L483.96,358.69 L485.26,358.86 L486.57,359.02 L487.87,359.19 L489.17,359.36 L490.48,359.52 L491.78,359.69 L493.08,359.85 L494.39,360.01 L495.69,360.17 L497.00,360.33 L498.30,360.48 L499.60,360.64 L500.91,360.79 L502.21,360.95 L503.52,361.10 L504.82,361.25 L506.13,361.40 L507.43,361.55 L508.74,361.70 L510.04,361.84 L511.35,361.99 L512.66,362.13 L513.96,362.28 L515.27,362.42 L516.57,362.56 L517.88,362.70 L519.19,362.84 L520.49,362.98 L521.80,363.12 L523.11,363.25 L524.41,363.39 L525.72,363.52 L527.03,363.66 L528.33,363.79 L529.64,363.92 L530.95,364.06 L532.26,364.19 L533.56,364.32 L534.87,364.44 L536.18,364.57 L537.49,364.70 L538.79,364.82 L540.10,364.95 L541.41,365.07 L542.72,365.20 L544.03,365.32 L545.34,365.44 L546.64,365.56 L547.95,365.68 L549.26,365.80 L550.57,365.92 L551.88,366.04 L553.19,366.16 L554.50,366.27 L555.81,366.39 L557.12,366.50 L558.42,366.62 L559.73,366.73 L561.04,366.84 L562.35,366.95 L563.66,367.06 L564.97,367.17 L566.28,367.28 L567.59,367.39 L568.90,367.50 L570.21,367.61 L571.52,367.71 L572.83,367.82 L574.14,367.92 L575.45,368.03 L576.76,368.13 L578.07,368.23 L579.38,368.34 L580.69,368.44 L582.01,368.54 L583.32,368.64 L584.63,368.74 L585.94,368.83 L587.25,368.93 L588.56,369.03 L589.87,369.13 L591.18,369.22 L592.49,369.32 L593.81,369.41 L595.12,369.50 L596.43,369.60 L597.74,369.69 L599.05,369.78 L600.36,369.87 L601.67,369.96 L602.99,370.05 L604.30,370.14 L605.61,370.23 L606.92,370.32 L608.23,370.41 L609.55,370.49 L610.86,370.58 L612.17,370.66 L613.48,370.75 L614.79,370.83 L616.11,370.92 L617.42,371.00 L618.73,371.08 L620.04,371.17 L621.36,371.25 L622.67,371.33 L623.98,371.41 L625.29,371.49 L626.61,371.57 L627.92,371.65 L629.23,371.73 L630.55,371.80 L631.86,371.88 L633.17,371.96 L634.48,372.03 L635.80,372.11 L637.11,372.18 L638.42,372.26 L639.74,372.33 L641.05,372.41 L642.36,372.48 L643.68,372.55 L644.99,372.62 L646.30,372.70 L647.62,372.77 L648.93,372.84 L650.24,372.91 L651.56,372.98 L652.87,373.05 L654.18,373.12 L655.50,373.18 L656.81,373.25 L658.12,373.32 L659.44,373.39 L660.75,373.45 L662.06,373.52 L663.38,373.59 L664.69,373.65 L666.01,373.72 L667.32,373.78 L668.63,373.85 L669.95,373.91 L671.26,373.97 L672.57,374.04 L673.89,374.10 L675.20,374.16 L676.52,374.22 L677.83,374.28 L679.14,374.35 L680.46,374.41 L681.77,374.47 L683.09,374.53 L684.40,374.59 L685.71,374.65 L687.03,374.71 L688.34,374.76 L689.66,374.82 L690.97,374.88 L692.28,374.94 L693.60,375.00 L694.91,375.05 L696.23,375.11 L697.54,375.17 L698.85,375.22 L700.17,375.28 L701.48,375.33 L702.80,375.39 L704.11,375.45 L705.42,375.50 L706.74,375.56 L708.05,375.61 L709.37,375.66 L710.68,375.72 L711.99,375.77 L713.31,375.82 L714.62,375.88 L715.94,375.93 L717.25,375.98 L718.56,376.04 L719.88,376.09 L721.19,376.14 L722.51,376.19 L723.82,376.24 L725.13,376.29 L726.45,376.35 L727.76,376.40 L729.08,376.45 L730.39,376.50 L731.70,376.55 L733.02,376.60 L734.33,376.65 L735.64,376.70 L736.96,376.75 L738.27,376.80 L739.59,376.85 L740.90,376.90 L742.21,376.95 L743.53,376.99 L744.84,377.04 L746.15,377.09 L747.47,377.14 L748.78,377.19 L750.10,377.24 L751.41,377.29 L752.72,377.33 L754.04,377.38 L755.35,377.43 L756.66,377.48 L757.98,377.53 L759.29,377.57 L760.60,377.62 L761.92,377.67 L763.23,377.72 L764.54,377.76 L765.86,377.81 L767.17,377.86 L768.48,377.91 L769.79,377.95 L771.11,378.00 L772.42,378.05 L773.73,378.09 L775.05,378.14 L776.36,378.19 L777.67,378.24 L778.98,378.28 L780.30,378.33 L781.61,378.38 L782.92,378.42 L784.24,378.47 L785.55,378.52 L786.86,378.56 L788.17,378.61 L789.49,378.66 L790.80,378.71 L792.11,378.75 L793.42,378.80 L794.73,378.85 L796.05,378.89 L797.36,378.94 L798.67,378.99 L799.98,379.04" stroke="#0000ff" stroke-width="4.7"/>
<path d="M376.23,398.01 L376.45,396.88 L376.67,395.74 L376.89,394.61 L377.11,393.48 L377.33,392.35 L377.56,391.22 L377.78,390.09 L378.01,388.96 L378.24,387.83 L378.48,386.70 L378.71,385.58 L378.94,384.45 L379.18,383.32 L379.42,382.20 L379.66,381.08 L379.91,379.95 L380.15,378.83 L380.40,377.71 L380.65,376.59 L380.90,375.47 L381.15,374.35 L381.40,373.23 L381.66,372.11 L381.91,371.00 L382.17,369.88 L382.43,368.76 L382.70,367.65 L382.96,366.53 L383.23,365.42 L383.50,364.31 L383.76,363.19 L384.04,362.08 L384.31,360.97 L384.59,359.86 L384.86,358.75 L385.14,357.64 L385.42,356.53 L385.70,355.42 L385.99,354.32 L386.27,353.21 L386.56,352.10 L386.85,351.00 L387.14,349.89 L387.44,348.79 L387.73,347.68 L388.03,346.58 L388.33,345.48 L388.63,344.37 L388.93,343.27 L389.23,342.17 L389.54,341.07 L389.85,339.97 L390.16,338.87 L390.47,337.77 L390.78,336.67 L391.10,335.57 L391.41,334.47 L391.73,333.38 L392.05,332.28 L392.37,331.18 L392.70,330.09 L393.02,328.99 L393.35,327.90 L393.68,326.80 L394.01,325.71 L394.34,324.62 L394.68,323.52 L395.01,322.43 L395.35,321.34 L395.69,320.25 L396.03,319.16 L396.38,318.06 L396.72,316.97 L397.07,315.88 L397.42,314.79 L397.77,313.70 L398.12,312.62 L398.48,311.53 L398.83,310.44 L399.19,309.35 L399.55,308.26 L399.91,307.18 L400.28,306.09 L400.64,305.00 L401.01,303.92 L401.38,302.83 L401.75,301.75 L402.12,300.66 L402.50,299.58 L402.87,298.49 L403.25,297.41 L403.63,296.33 L404.01,295.24 L404.40,294.16 L404.78,293.08 L405.17,292.00 L405.56,290.92 L405.96,289.84 L406.35,288.76 L406.75,287.68 L407.15,286.60 L407.55,285.53 L407.96,284.45 L408.37,283.38 L408.78,282.30 L409.19,281.23 L409.61,280.16 L410.03,279.09 L410.46,278.02 L410.88,276.96 L411.31,275.89 L411.75,274.83 L412.18,273.77 L412.62,272.70 L413.07,271.64 L413.51,270.59 L413.96,269.53 L414.42,268.48 L414.88,267.42 L415.34,266.37 L415.81,265.32 L416.28,264.28 L416.75,263.23 L417.23,262.19 L417.71,261.15 L418.20,260.11 L418.69,259.08 L419.18,258.04 L419.68,257.01 L420.19,255.98 L420.70,254.95 L421.21,253.93 L421.73,252.91 L422.25,251.89 L422.78,250.87 L423.32,249.86 L423.85,248.85 L424.40,247.84 L424.95,246.83 L425.50,245.83 L426.06,244.83 L426.62,243.83 L427.19,242.84 L427.77,241.85 L428.35,240.86 L428.94,239.88 L429.53,238.90 L430.13,237.92 L430.73,236.94 L431.34,235.97 L431.95,235.01 L432.58,234.04 L433.20,233.08 L433.84,232.12 L434.48,231.17 L435.12,230.22 L435.77,229.27 L436.43,228.33 L437.09,227.39 L437.76,226.46 L438.43,225.53 L439.11,224.60 L439.80,223.68 L440.49,222.76 L441.18,221.84 L441.89,220.93 L442.59,220.02 L443.31,219.12 L444.02,218.22 L444.75,217.32 L445.47,216.43 L446.21,215.55 L446.95,214.66 L447.69,213.78 L448.44,212.91 L449.19,212.04 L449.95,211.17 L450.72,210.31 L451.49,209.46 L452.26,208.60 L453.04,207.76 L453.83,206.91 L454.62,206.07 L455.41,205.24 L456.21,204.41 L457.01,203.59 L457.82,202.77 L458.64,201.95 L459.45,201.14 L460.28,200.33 L461.10,199.53 L461.94,198.74 L462.77,197.95 L463.61,197.16 L464.46,196.38 L465.31,195.60 L466.17,194.83 L467.02,194.07 L467.89,193.31 L468.76,192.55 L469.63,191.80 L470.50,191.06 L471.38,190.32 L472.27,189.58 L473.16,188.85 L474.05,188.13 L474.95,187.41 L475.85,186.70 L476.75,185.99 L477.66,185.29 L478.58,184.59 L479.49,183.90 L480.41,183.22 L481.34,182.54 L482.27,181.87 L483.20,181.20 L484.14,180.54 L485.08,179.88 L486.02,179.23 L486.97,178.59 L487.92,177.95 L488.87,177.31 L489.83,176.69 L490.79,176.07 L491.76,175.45 L492.73,174.84 L493.70,174.24 L494.67,173.65 L495.65,173.06 L496.63,172.47 L497.62,171.90 L498.61,171.32 L499.60,170.76 L500.60,170.20 L501.59,169.65 L502.59,169.10 L503.60,168.57 L504.61,168.03 L505.62,167.51 L506.63,166.99 L507.65,166.48 L508.67,165.97 L509.69,165.47 L510.71,164.98 L511.74,164.49 L512.77,164.01 L513.80,163.54 L514.84,163.08 L515.88,162.62 L516.92,162.17 L517.97,161.72 L519.01,161.28 L520.06,160.85 L521.11,160.43 L522.17,160.01 L523.22,159.60 L524.28,159.19 L525.34,158.80 L526.41,158.40 L527.47,158.02 L528.54,157.64 L529.61,157.27 L530.69,156.90 L531.76,156.54 L532.84,156.18 L533.92,155.84 L535.00,155.49 L536.09,155.16 L537.17,154.83 L538.26,154.50 L539.35,154.18 L540.44,153.87 L541.54,153.56 L542.64,153.26 L543.73,152.97 L544.83,152.68 L545.94,152.39 L547.04,152.11 L548.15,151.84 L549.25,151.57 L550.36,151.31 L551.47,151.05 L552.59,150.80 L553.70,150.55 L554.82,150.31 L555.94,150.07 L557.05,149.84 L558.18,149.61 L559.30,149.39 L560.42,149.18 L561.55,148.96 L562.67,148.76 L563.80,148.55 L564.93,148.36 L566.06,148.16 L567.20,147.98 L568.33,147.79 L569.46,147.61 L570.60,147.44 L571.74,147.27 L572.88,147.10 L574.02,146.94 L575.16,146.78 L576.30,146.63 L577.44,146.48 L578.59,146.34 L579.73,146.19 L580.88,146.06 L582.02,145.93 L583.17,145.80 L584.32,145.67 L585.47,145.55 L586.62,145.43 L587.77,145.32 L588.93,145.21 L590.08,145.10 L591.23,145.00 L592.39,144.90 L593.54,144.81 L594.70,144.72 L595.85,144.63 L597.01,144.54 L598.17,144.46 L599.33,144.38 L600.49,144.31 L601.64,144.23 L602.80,144.17 L603.96,144.10 L605.12,144.04 L606.28,143.98 L607.45,143.92 L608.61,143.87 L609.77,143.81 L610.93,143.77 L612.09,143.72 L613.25,143.68 L614.42,143.64 L615.58,143.60 L616.74,143.56 L617.90,143.53 L619.07,143.50 L620.23,143.47 L621.39,143.45 L622.55,143.42 L623.72,143.40 L624.88,143.38 L626.04,143.37 L627.20,143.35 L628.37,143.34 L629.53,143.33 L630.69,143.32 L631.85,143.31 L633.01,143.31 L634.17,143.31 L635.33,143.30 L636.49,143.31 L637.65,143.31 L638.81,143.31 L639.97,143.32 L641.13,143.32 L642.28,143.33 L643.44,143.34 L644.60,143.35 L645.75,143.37 L646.91,143.38 L648.06,143.39 L649.21,143.41 L650.37,143.43 L651.52,143.45 L652.67,143.46 L653.82,143.49 L654.97,143.51 L656.12,143.53 L657.27,143.55 L658.42,143.58 L659.56,143.60 L660.71,143.63 L661.86,143.66 L663.00,143.69 L664.15,143.72 L665.29,143.75 L666.43,143.78 L667.58,143.81 L668.72,143.85 L669.86,143.88 L671.00,143.92 L672.14,143.95 L673.28,143.99 L674.42,144.03 L675.56,144.07 L676.70,144.11 L677.84,144.15 L678.98,144.19 L680.11,144.24 L681.25,144.28 L682.39,144.33 L683.52,144.37 L684.66,144.42 L685.80,144.47 L686.93,144.52 L688.07,144.56 L689.20,144.62 L690.34,144.67 L691.47,144.72 L692.60,144.77 L693.74,144.83 L694.87,144.88 L696.00,144.94 L697.14,144.99 L698.27,145.05 L699.40,145.11 L700.54,145.17 L701.67,145.23 L702.80,145.29 L703.93,145.35 L705.07,145.41 L706.20,145.47 L707.33,145.53 L708.46,145.60 L709.59,145.66 L710.73,145.73 L711.86,145.80 L712.99,145.86 L714.12,145.93 L715.25,146.00 L716.39,146.07 L717.52,146.14 L718.65,146.21 L719.78,146.28 L720.91,146.35 L722.05,146.43 L723.18,146.50 L724.31,146.57 L725.45,146.65 L726.58,146.72 L727.71,146.80 L728.85,146.88 L729.98,146.95 L731.11,147.03 L732.25,147.11 L733.38,147.19 L734.52,147.27 L735.65,147.35 L736.79,147.43 L737.92,147.51 L739.06,147.60 L740.20,147.68 L741.33,147.76 L742.47,147.85 L743.61,147.93 L744.75,148.02 L745.88,148.10 L747.02,148.19 L748.16,148.27 L749.30,148.36 L750.44,148.45 L751.58,148.54 L752.72,148.63 L753.87,148.72 L755.01,148.81 L756.15,148.90 L757.29,148.99 L758.44,149.08 L759.58,149.17 L760.73,149.26 L761.87,149.36 L763.02,149.45 L764.17,149.54 L765.32,149.64 L766.47,149.73 L767.61,149.83 L768.76,149.92 L769.92,150.02 L771.07,150.11 L772.22,150.21 L773.37,150.31 L774.53,150.40 L775.68,150.50 L776.84,150.60 L777.99,150.70 L779.15,150.80 L780.31,150.90 L781.47,151.00 L782.63,151.10 L783.79,151.20 L784.95,151.30 L786.11,151.40 L787.27,151.50 L788.44,151.60 L789.60,151.70 L790.77,151.80 L791.94,151.91 L793.11,152.01 L794.27,152.11 L795.44,152.22 L796.62,152.32 L797.79,152.42 L798.96,152.53 L800.14,152.63" stroke="#00ff00" stroke-width="4.7" stroke-dasharray="14.24 4.23" stroke-dashoffset="0"/>
<path d="M410.30,397.91 L410.58,396.97 L410.87,396.03 L411.15,395.09 L411.43,394.15 L411.72,393.21 L412.01,392.27 L412.30,391.33 L412.59,390.38 L412.88,389.44 L413.17,388.50 L413.46,387.55 L413.76,386.61 L414.06,385.66 L414.35,384.71 L414.65,383.76 L414.95,382.82 L415.26,381.87 L415.56,380.92 L415.87,379.97 L416.17,379.02 L416.48,378.07 L416.79,377.12 L417.10,376.17 L417.41,375.22 L417.73,374.26 L418.04,373.31 L418.36,372.36 L418.68,371.41 L419.00,370.46 L419.32,369.50 L419.65,368.55 L419.97,367.60 L420.30,366.64 L420.63,365.69 L420.96,364.74 L421.29,363.78 L421.63,362.83 L421.97,361.88 L422.30,360.93 L422.64,359.97 L422.98,359.02 L423.33,358.07 L423.67,357.11 L424.02,356.16 L424.37,355.21 L424.72,354.26 L425.07,353.31 L425.43,352.35 L425.78,351.40 L426.14,350.45 L426.50,349.50 L426.86,348.55 L427.23,347.60 L427.59,346.65 L427.96,345.70 L428.33,344.76 L428.70,343.81 L429.08,342.86 L429.45,341.91 L429.83,340.97 L430.21,340.02 L430.60,339.08 L430.98,338.13 L431.37,337.19 L431.76,336.25 L432.15,335.30 L432.54,334.36 L432.94,333.42 L433.34,332.48 L433.74,331.54 L434.14,330.61 L434.54,329.67 L434.95,328.73 L435.36,327.80 L435.77,326.86 L436.18,325.93 L436.60,324.99 L437.02,324.06 L437.44,323.13 L437.86,322.20 L438.29,321.27 L438.72,320.35 L439.15,319.42 L439.58,318.50 L440.02,317.57 L440.45,316.65 L440.89,315.73 L441.34,314.81 L441.78,313.89 L442.23,312.97 L442.68,312.06 L443.13,311.14 L443.59,310.23 L444.05,309.32 L444.51,308.41 L444.97,307.50 L445.44,306.59 L445.91,305.68 L446.38,304.78 L446.85,303.88 L447.33,302.97 L447.81,302.08 L448.29,301.18 L448.77,300.28 L449.26,299.39 L449.75,298.49 L450.25,297.60 L450.74,296.71 L451.24,295.82 L451.74,294.94 L452.25,294.05 L452.75,293.17 L453.26,292.29 L453.78,291.41 L454.29,290.54 L454.81,289.66 L455.33,288.79 L455.86,287.92 L456.39,287.05 L456.92,286.18 L457.45,285.32 L457.99,284.46 L458.53,283.60 L459.07,282.74 L459.62,281.88 L460.16,281.03 L460.72,280.18 L461.27,279.33 L461.83,278.48 L462.39,277.64 L462.96,276.80 L463.52,275.96 L464.09,275.12 L464.67,274.28 L465.24,273.45 L465.83,272.62 L466.41,271.79 L467.00,270.97 L467.59,270.15 L468.18,269.33 L468.78,268.51 L469.38,267.69 L469.98,266.88 L470.59,266.07 L471.20,265.26 L471.81,264.46 L472.43,263.66 L473.05,262.86 L473.67,262.06 L474.30,261.27 L474.93,260.48 L475.56,259.69 L476.20,258.91 L476.84,258.13 L477.48,257.35 L478.13,256.57 L478.78,255.80 L479.44,255.03 L480.09,254.26 L480.76,253.50 L481.42,252.74 L482.09,251.98 L482.76,251.22 L483.44,250.47 L484.12,249.72 L484.80,248.98 L485.49,248.24 L486.18,247.50 L486.87,246.76 L487.57,246.03 L488.27,245.30 L488.97,244.57 L489.67,243.85 L490.38,243.13 L491.10,242.41 L491.81,241.70 L492.53,240.99 L493.25,240.28 L493.98,239.58 L494.71,238.88 L495.44,238.18 L496.17,237.49 L496.91,236.80 L497.65,236.11 L498.40,235.43 L499.14,234.75 L499.89,234.07 L500.65,233.40 L501.40,232.73 L502.16,232.07 L502.92,231.40 L503.69,230.74 L504.45,230.09 L505.23,229.44 L506.00,228.79 L506.77,228.14 L507.55,227.50 L508.34,226.86 L509.12,226.23 L509.91,225.60 L510.70,224.97 L511.49,224.35 L512.28,223.73 L513.08,223.11 L513.88,222.50 L514.69,221.89 L515.49,221.29 L516.30,220.69 L517.11,220.09 L517.92,219.49 L518.74,218.90 L519.56,218.32 L520.38,217.74 L521.20,217.16 L522.03,216.58 L522.86,216.01 L523.69,215.44 L524.52,214.88 L525.35,214.32 L526.19,213.77 L527.03,213.22 L527.87,212.67 L528.72,212.12 L529.56,211.58 L530.41,211.05 L531.26,210.52 L532.12,209.99 L532.97,209.47 L533.83,208.95 L534.69,208.43 L535.55,207.92 L536.42,207.41 L537.28,206.91 L538.15,206.41 L539.02,205.91 L539.89,205.42 L540.77,204.93 L541.64,204.45 L542.52,203.97 L543.40,203.50 L544.28,203.03 L545.17,202.56 L546.05,202.10 L546.94,201.64 L547.83,201.19 L548.72,200.74 L549.61,200.29 L550.51,199.85 L551.40,199.41 L552.30,198.98 L553.20,198.55 L554.10,198.13 L555.01,197.70 L555.91,197.29 L556.82,196.87 L557.73,196.46 L558.64,196.06 L559.55,195.66 L560.47,195.26 L561.38,194.86 L562.30,194.47 L563.22,194.09 L564.14,193.70 L565.06,193.32 L565.98,192.95 L566.91,192.58 L567.84,192.21 L568.77,191.85 L569.70,191.49 L570.63,191.13 L571.56,190.78 L572.50,190.43 L573.43,190.08 L574.37,189.74 L575.31,189.40 L576.25,189.06 L577.19,188.73 L578.14,188.40 L579.08,188.08 L580.03,187.76 L580.97,187.44 L581.92,187.13 L582.87,186.82 L583.83,186.51 L584.78,186.20 L585.73,185.90 L586.69,185.61 L587.65,185.31 L588.61,185.02 L589.57,184.73 L590.53,184.45 L591.49,184.17 L592.45,183.89 L593.42,183.62 L594.39,183.35 L595.35,183.08 L596.32,182.81 L597.29,182.55 L598.26,182.29 L599.24,182.04 L600.21,181.79 L601.18,181.54 L602.16,181.29 L603.14,181.05 L604.11,180.81 L605.09,180.57 L606.07,180.34 L607.05,180.11 L608.04,179.88 L609.02,179.65 L610.01,179.43 L610.99,179.21 L611.98,179.00 L612.96,178.78 L613.95,178.57 L614.94,178.36 L615.93,178.16 L616.92,177.96 L617.92,177.76 L618.91,177.56 L619.90,177.37 L620.90,177.18 L621.89,176.99 L622.89,176.80 L623.89,176.62 L624.89,176.44 L625.89,176.26 L626.89,176.09 L627.89,175.91 L628.89,175.74 L629.89,175.57 L630.89,175.41 L631.90,175.25 L632.90,175.09 L633.91,174.93 L634.92,174.78 L635.92,174.62 L636.93,174.47 L637.94,174.33 L638.95,174.18 L639.96,174.04 L640.97,173.90 L641.98,173.76 L642.99,173.62 L644.00,173.49 L645.01,173.36 L646.03,173.23 L647.04,173.10 L648.06,172.98 L649.07,172.86 L650.09,172.74 L651.10,172.62 L652.12,172.50 L653.14,172.39 L654.16,172.28 L655.17,172.17 L656.19,172.06 L657.21,171.96 L658.23,171.85 L659.25,171.75 L660.27,171.65 L661.29,171.55 L662.31,171.46 L663.33,171.37 L664.36,171.28 L665.38,171.19 L666.40,171.10 L667.42,171.01 L668.45,170.93 L669.47,170.85 L670.49,170.77 L671.52,170.69 L672.54,170.61 L673.57,170.54 L674.59,170.47 L675.62,170.40 L676.64,170.33 L677.67,170.26 L678.69,170.19 L679.72,170.13 L680.75,170.07 L681.77,170.01 L682.80,169.95 L683.82,169.89 L684.85,169.83 L685.88,169.78 L686.90,169.73 L687.93,169.67 L688.96,169.63 L689.99,169.58 L691.01,169.53 L692.04,169.48 L693.07,169.44 L694.09,169.40 L695.12,169.36 L696.15,169.32 L697.17,169.28 L698.20,169.24 L699.23,169.21 L700.26,169.17 L701.28,169.14 L702.31,169.11 L703.33,169.08 L704.36,169.05 L705.39,169.02 L706.41,168.99 L707.44,168.97 L708.47,168.94 L709.49,168.92 L710.52,168.90 L711.54,168.88 L712.57,168.86 L713.59,168.84 L714.62,168.82 L715.64,168.80 L716.66,168.79 L717.69,168.77 L718.71,168.76 L719.73,168.74 L720.76,168.73 L721.78,168.72 L722.80,168.71 L723.82,168.70 L724.85,168.69 L725.87,168.69 L726.89,168.68 L727.91,168.67 L728.93,168.67 L729.95,168.67 L730.96,168.66 L731.98,168.66 L733.00,168.66 L734.02,168.66 L735.04,168.66 L736.05,168.66 L737.07,168.66 L738.08,168.66 L739.10,168.66 L740.11,168.66 L741.13,168.67 L742.14,168.67 L743.15,168.68 L744.16,168.68 L745.18,168.69 L746.19,168.69 L747.20,168.70 L748.21,168.71 L749.22,168.71 L750.22,168.72 L751.23,168.73 L752.24,168.74 L753.24,168.75 L754.25,168.76 L755.25,168.77 L756.26,168.78 L757.26,168.79 L758.26,168.80 L759.26,168.81 L760.26,168.82 L761.26,168.83 L762.26,168.84 L763.26,168.86 L764.26,168.87 L765.26,168.88 L766.25,168.89 L767.25,168.90 L768.24,168.92 L769.23,168.93 L770.22,168.94 L771.21,168.96 L772.20,168.97 L773.19,168.98 L774.18,168.99 L775.17,169.01 L776.16,169.02 L777.14,169.03 L778.12,169.04 L779.11,169.06 L780.09,169.07 L781.07,169.08 L782.05,169.09 L783.03,169.11 L784.01,169.12 L784.98,169.13 L785.96,169.14 L786.93,169.15 L787.91,169.16 L788.88,169.17 L789.85,169.18 L790.82,169.19 L791.79,169.20 L792.75,169.21 L793.72,169.22 L794.68,169.23 L795.65,169.24 L796.61,169.25 L797.57,169.25 L798.53,169.26 L799.49,169.27" stroke="#0000ff" stroke-width="4.7" stroke-dasharray="14.24 4.23" stroke-dashoffset="0"/>
</g>
<path d="M170.50,395.35v-7.1 M170.50,13.25v7.1 M201.43,395.35v-4.2 M201.43,13.25v4.2 M232.35,395.35v-4.2 M232.35,13.25v4.2 M263.27,395.35v-4.2 M263.27,13.25v4.2 M294.20,395.35v-7.1 M294.20,13.25v7.1 M325.12,395.35v-4.2 M325.12,13.25v4.2 M356.05,395.35v-4.2 M356.05,13.25v4.2 M386.98,395.35v-4.2 M386.98,13.25v4.2 M417.90,395.35v-7.1 M417.90,13.25v7.1 M448.82,395.35v-4.2 M448.82,13.25v4.2 M479.75,395.35v-4.2 M479.75,13.25v4.2 M510.68,395.35v-4.2 M510.68,13.25v4.2 M541.60,395.35v-7.1 M541.60,13.25v7.1 M572.53,395.35v-4.2 M572.53,13.25v4.2 M603.45,395.35v-4.2 M603.45,13.25v4.2 M634.38,395.35v-4.2 M634.38,13.25v4.2 M665.30,395.35v-7.1 M665.30,13.25v7.1 M696.23,395.35v-4.2 M696.23,13.25v4.2 M727.15,395.35v-4.2 M727.15,13.25v4.2 M758.08,395.35v-4.2 M758.08,13.25v4.2 M789.00,395.35v-7.1 M789.00,13.25v7.1 M170.5,395.35h7.1 M789.0,395.35h-7.1 M170.5,376.25h4.2 M789.0,376.25h-4.2 M170.5,357.14h4.2 M789.0,357.14h-4.2 M170.5,338.04h4.2 M789.0,338.04h-4.2 M170.5,318.93h4.2 M789.0,318.93h-4.2 M170.5,299.83h7.1 M789.0,299.83h-7.1 M170.5,280.72h4.2 M789.0,280.72h-4.2 M170.5,261.62h4.2 M789.0,261.62h-4.2 M170.5,242.51h4.2 M789.0,242.51h-4.2 M170.5,223.41h4.2 M789.0,223.41h-4.2 M170.5,204.30h7.1 M789.0,204.30h-7.1 M170.5,185.20h4.2 M789.0,185.20h-4.2 M170.5,166.09h4.2 M789.0,166.09h-4.2 M170.5,146.99h4.2 M789.0,146.99h-4.2 M170.5,127.88h4.2 M789.0,127.88h-4.2 M170.5,108.78h7.1 M789.0,108.78h-7.1 M170.5,89.67h4.2 M789.0,89.67h-4.2 M170.5,70.56h4.2 M789.0,70.56h-4.2 M170.5,51.46h4.2 M789.0,51.46h-4.2 M170.5,32.36h4.2 M789.0,32.36h-4.2 M170.5,13.25h7.1 M789.0,13.25h-7.1" stroke="#303030" stroke-width="0.8" fill="none"/>
<rect x="170.5" y="13.25" width="618.50" height="382.10" fill="none" stroke="#303030" stroke-width="1"/>
<line x1="202.9" x2="228.95" y1="72.4" y2="72.4" stroke="#ff0000" stroke-width="4.6"/>
<line x1="202.9" x2="228.95" y1="101.4" y2="101.4" stroke="#00ff00" stroke-width="4.6"/>
<line x1="202.9" x2="228.95" y1="130.3" y2="130.3" stroke="#0000ff" stroke-width="4.6"/>
<g font-family="'Liberation Serif', serif" fill="#000" style="opacity:0.999"><text x="163.0" y="402.25" font-size="20.5" text-anchor="end">0.00</text><text x="163.0" y="306.73" font-size="20.5" text-anchor="end">0.05</text><text x="163.0" y="211.20" font-size="20.5" text-anchor="end">0.10</text><text x="163.0" y="115.67" font-size="20.5" text-anchor="end">0.15</text><text x="163.0" y="20.15" font-size="20.5" text-anchor="end">0.20</text><text x="170.50" y="420.8" font-size="20.5" text-anchor="middle">0</text><text x="294.20" y="420.8" font-size="20.5" text-anchor="middle">2</text><text x="417.90" y="420.8" font-size="20.5" text-anchor="middle">4</text><text x="541.60" y="420.8" font-size="20.5" text-anchor="middle">6</text><text x="665.30" y="420.8" font-size="20.5" text-anchor="middle">8</text><text x="789.00" y="420.8" font-size="20.5" text-anchor="middle">10</text><text x="675.3" y="89.4" font-size="20" text-anchor="start">D</text><line x1="690.9" x2="701.3" y1="86.05" y2="86.05" stroke="#000" stroke-width="1.15"/><line x1="690.9" x2="701.3" y1="82.35" y2="82.35" stroke="#000" stroke-width="1.15"/><text x="701.8" y="89.4" font-size="20" text-anchor="start">5</text><text x="690.0" y="342.8" font-size="20" text-anchor="start">D</text><line x1="705.6" x2="716.0" y1="339.45" y2="339.45" stroke="#000" stroke-width="1.15"/><line x1="705.6" x2="716.0" y1="335.75" y2="335.75" stroke="#000" stroke-width="1.15"/><text x="716.5" y="342.8" font-size="20" text-anchor="start">4</text><text x="250.4" y="79.7" font-size="23" text-anchor="start" style="font-style:italic">α</text><line x1="263.7" x2="274.75" y1="76.35" y2="76.35" stroke="#000" stroke-width="1.15"/><line x1="263.7" x2="274.75" y1="72.65" y2="72.65" stroke="#000" stroke-width="1.15"/><text x="276.3" y="79.7" font-size="20.5" text-anchor="start">1</text><text x="250.4" y="108.7" font-size="23" text-anchor="start" style="font-style:italic">α</text><line x1="263.7" x2="274.75" y1="105.35" y2="105.35" stroke="#000" stroke-width="1.15"/><line x1="263.7" x2="274.75" y1="101.65" y2="101.65" stroke="#000" stroke-width="1.15"/><text x="276.3" y="108.7" font-size="20.5" text-anchor="start">4/3</text><text x="250.4" y="137.7" font-size="23" text-anchor="start" style="font-style:italic">α</text><line x1="263.7" x2="274.75" y1="134.35" y2="134.35" stroke="#000" stroke-width="1.15"/><line x1="263.7" x2="274.75" y1="130.65" y2="130.65" stroke="#000" stroke-width="1.15"/><text x="276.3" y="137.7" font-size="20.5" text-anchor="start">3/2</text><text transform="translate(477.9,459.9) scale(1.1,1)" font-size="30" text-anchor="middle" style="font-style:italic">m</text><text transform="translate(106.9,209.0) rotate(-90)" font-size="36" text-anchor="middle" stroke="#000" stroke-width="1.0" stroke-linejoin="round" style="font-style:italic">T</text></g>
</svg>
</body></html>
